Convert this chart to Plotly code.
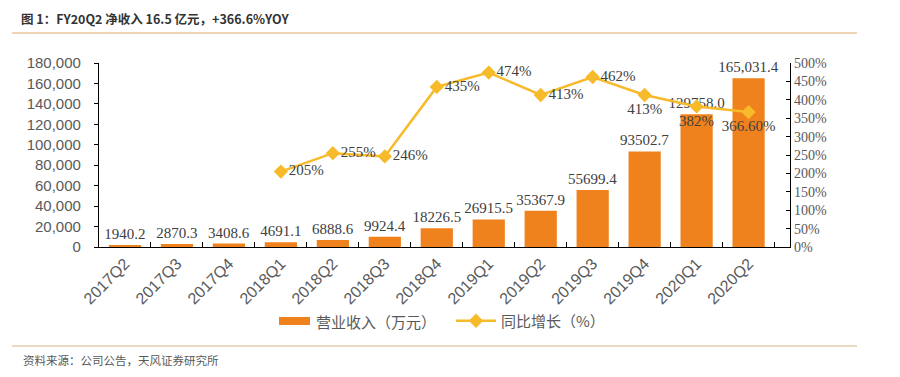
import plotly.graph_objects as go

categories = ["2017Q2", "2017Q3", "2017Q4", "2018Q1", "2018Q2", "2018Q3", "2018Q4",
              "2019Q1", "2019Q2", "2019Q3", "2019Q4", "2020Q1", "2020Q2"]
revenue = [1940.2, 2870.3, 3408.6, 4691.1, 6888.6, 9924.4, 18226.5,
           26915.5, 35367.9, 55699.4, 93502.7, 129758.0, 165031.4]
revenue_labels = ["1940.2", "2870.3", "3408.6", "4691.1", "6888.6", "9924.4", "18226.5",
                  "26915.5", "35367.9", "55699.4", "93502.7", "129758.0", "165,031.4"]
yoy_categories = categories[3:]
yoy = [205, 255, 246, 435, 474, 413, 462, 413, 382, 366.6]
yoy_labels = ["205%", "255%", "246%", "435%", "474%", "413%", "462%", "413%", "382%", "366.60%"]
yoy_label_pos = ["middle right"] * 7 + ["bottom center"] * 3
bar_name = "营业收入（万元）"
line_name = "同比增长（%）"

BAR = "#F0821D"
LINE = "#F7BA2A"
GRAY = "#595959"
DARK = "#404040"
SERIF = "Liberation Serif, Times New Roman, serif"
SANS = "Liberation Sans, Arial, sans-serif"
CJK = "Noto Sans CJK SC, sans-serif"

# page has an 8px body margin; work in reference pixel coords and offset
OFF = 8
FW, FH = 900 - OFF, 377 - OFF
W0, W1 = 99 - OFF, 790 - OFF
Y0, Y1 = 247 - OFF, 63 - OFF


def px(x):
    return (x - OFF - W0) / (W1 - W0)


def py(y):
    return (Y0 - (y - OFF)) / (Y0 - Y1)


fig = go.Figure()
fig.add_trace(go.Bar(
    x=categories, y=revenue, name=bar_name, showlegend=False,
    marker=dict(color=BAR, line=dict(width=0)),
    text=revenue_labels, textposition="outside", constraintext="none",
    textfont=dict(family=SERIF, size=15, color=DARK), cliponaxis=False,
))
fig.add_trace(go.Scatter(
    x=yoy_categories, y=yoy, name=line_name, yaxis="y2",
    mode="lines+markers+text",
    line=dict(color=LINE, width=2.5),
    marker=dict(symbol="diamond", size=11, color=LINE),
    text=yoy_labels, textposition=yoy_label_pos,
    textfont=dict(family=SERIF, size=15, color=DARK), cliponaxis=False,
))

fig.update_layout(
    width=FW, height=FH,
    margin=dict(l=W0, r=FW - W1, t=Y1, b=FH - Y0),
    paper_bgcolor="white", plot_bgcolor="white",
    bargap=0.38,
    showlegend=True,
    legend=dict(orientation="h", x=px(451), y=py(321), xanchor="left", yanchor="middle",
                font=dict(family=CJK, size=15, color=GRAY),
                itemwidth=40, bgcolor="rgba(0,0,0,0)"),
    title=dict(text="<b>图 1：FY20Q2 净收入 16.5 亿元，+366.6%YOY</b>",
               x=(21 - OFF) / FW, xanchor="left", xref="container",
               y=1 - (20 - OFF) / FH, yanchor="middle", yref="container",
               font=dict(family=CJK, size=12.5, color="#333333")),
    xaxis=dict(showline=True, linecolor="black", linewidth=1.2,
               ticks="inside", ticklen=5, tickcolor="black", tickson="boundaries",
               tickangle=-45, tickfont=dict(family=SANS, size=16, color=GRAY),
               showgrid=False, zeroline=False),
    yaxis=dict(range=[0, 180000], dtick=20000, tickformat=",",
               showline=True, linecolor="black", linewidth=1.2,
               ticks="outside", ticklen=4, tickcolor="black", ticklabelstandoff=10,
               tickfont=dict(family=SANS, size=15, color=GRAY),
               showgrid=False, zeroline=False),
    yaxis2=dict(range=[0, 500], dtick=50, ticksuffix="%", overlaying="y", side="right",
                showline=True, linecolor="black", linewidth=1.2,
                ticks="inside", ticklen=4, tickcolor="black",
                tickfont=dict(family=SERIF, size=14, color=GRAY),
                showgrid=False, zeroline=False),
    shapes=[
        dict(type="line", xref="paper", yref="paper", x0=px(12), x1=px(857), y0=py(33), y1=py(33),
             line=dict(color="#E0A770", width=1.2)),
        dict(type="line", xref="paper", yref="paper", x0=px(12), x1=px(857), y0=py(346), y1=py(346),
             line=dict(color="#D9B48A", width=1.2)),
        # legend swatch for the bar series
        dict(type="rect", xref="paper", yref="paper", x0=px(279), x1=px(310), y0=py(325), y1=py(317),
             fillcolor=BAR, line=dict(width=0)),
    ],
    annotations=[
        dict(text=bar_name, xref="paper", yref="paper",
             x=px(314), y=py(321), xanchor="left", yanchor="middle", showarrow=False,
             font=dict(family=CJK, size=15, color=GRAY)),
        dict(text="资料来源：公司公告，天风证券研究所", xref="paper", yref="paper",
             x=px(21), y=py(360), xanchor="left", yanchor="middle", showarrow=False,
             font=dict(family=CJK, size=11.5, color=GRAY)),
    ],
)

fig.write_html("out.html")
